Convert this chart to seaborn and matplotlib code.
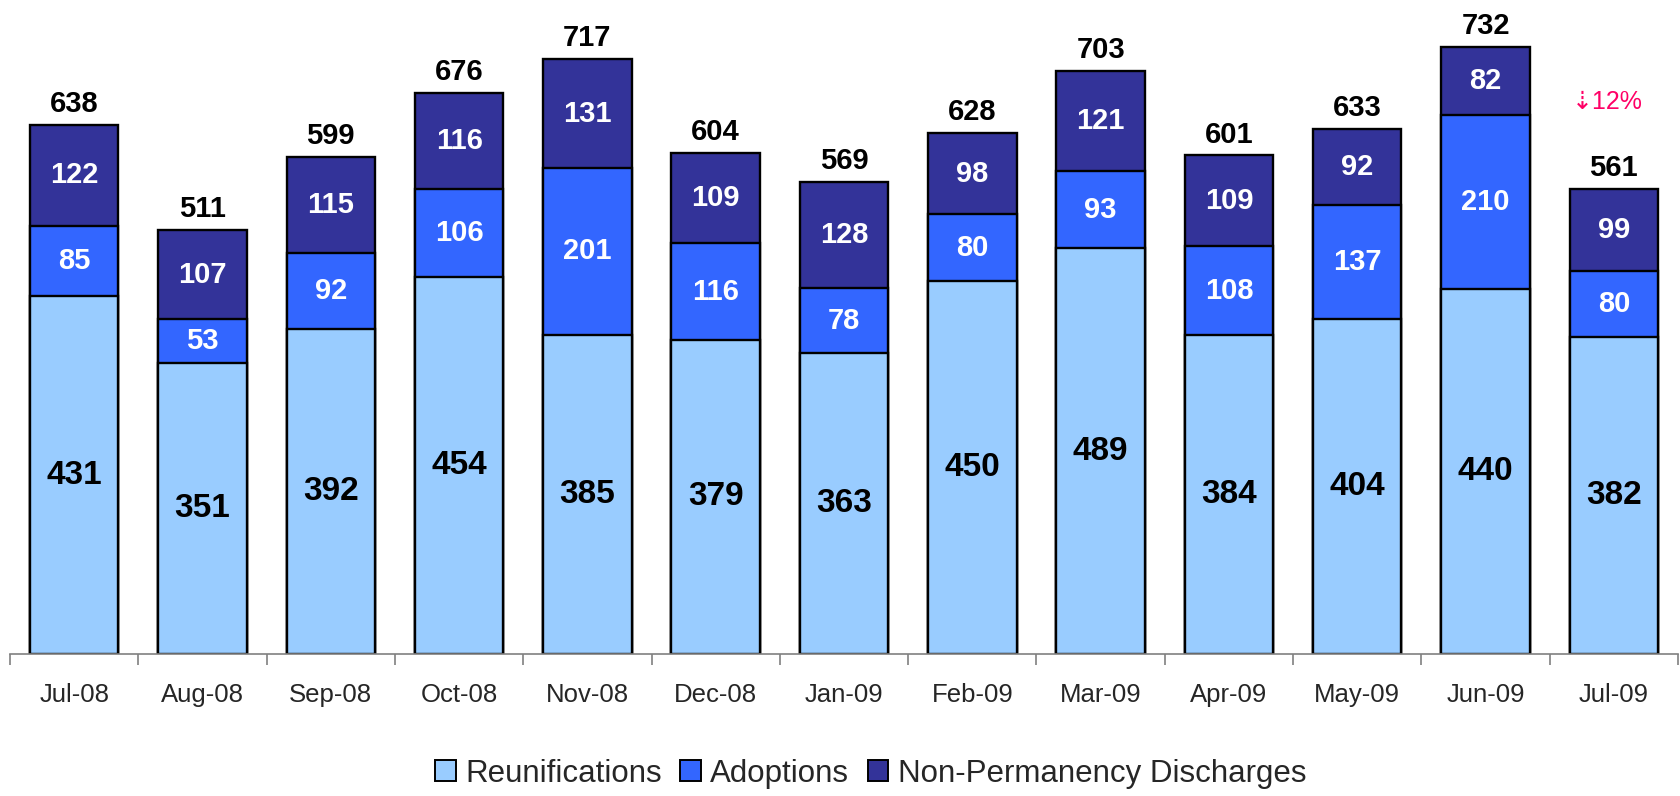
import pandas as pd
import numpy as np
import matplotlib
matplotlib.use("Agg")
import matplotlib.pyplot as plt
import seaborn as sns
from matplotlib.patches import Patch

months = ["Jul-08", "Aug-08", "Sep-08", "Oct-08", "Nov-08", "Dec-08", "Jan-09",
          "Feb-09", "Mar-09", "Apr-09", "May-09", "Jun-09", "Jul-09"]
reunifications = [431, 351, 392, 454, 385, 379, 363, 450, 489, 384, 404, 440, 382]
adoptions = [85, 53, 92, 106, 201, 116, 78, 80, 93, 108, 137, 210, 80]
non_perm = [122, 107, 115, 116, 131, 109, 128, 98, 121, 109, 92, 82, 99]
change_label = "\u21e312%"

sns.set_style("white")
plt.rcParams["font.family"] = ["Liberation Sans", "DejaVu Sans"]

df = pd.DataFrame({"month": months, "reun": reunifications,
                   "adopt": adoptions, "nonperm": non_perm})
df["lower2"] = df["reun"] + df["adopt"]
df["total"] = df["lower2"] + df["nonperm"]

c_reun, c_adopt, c_non = "#99CCFF", "#3366FF", "#333399"

fig = plt.figure(figsize=(16.81, 7.96), dpi=100)
ax = fig.add_axes([10 / 1681, 142 / 796, 1668 / 1681, 647 / 796])

# stacked bars: draw cumulative heights from the top down
for col, color in [("total", c_non), ("lower2", c_adopt), ("reun", c_reun)]:
    sns.barplot(data=df, x="month", y=col, order=months, color=color,
                saturation=1, width=0.69, edgecolor="black", linewidth=1.7, ax=ax)

for i, row in df.iterrows():
    ax.text(i, row["reun"] / 2, str(row["reun"]), ha="center", va="center",
            fontsize=24, fontweight="bold", color="black")
    ax.text(i, row["reun"] + row["adopt"] / 2, str(row["adopt"]), ha="center",
            va="center", fontsize=21, fontweight="bold", color="white")
    ax.text(i, row["lower2"] + row["nonperm"] / 2, str(row["nonperm"]), ha="center",
            va="center", fontsize=21, fontweight="bold", color="white")
    ax.annotate(str(row["total"]), (i, row["total"]), xytext=(0, 5),
                textcoords="offset points", ha="center", va="bottom",
                fontsize=21, fontweight="bold", color="black")

ax.annotate(change_label, (len(months) - 1, df["total"].iloc[-1]), xytext=(-5, 54),
            textcoords="offset points", ha="center", va="bottom",
            fontsize=18, color="#FF0066")

ax.set_xlim(-0.5, len(months) - 0.5)
ax.set_ylim(0, 780)
ax.set_xlabel("")
ax.set_ylabel("")
ax.set_yticks([])
for side in ["top", "right", "left"]:
    ax.spines[side].set_visible(False)
ax.spines["bottom"].set_color("#808080")
ax.spines["bottom"].set_linewidth(1.2)

ax.set_xticks(np.arange(-0.5, len(months)), minor=True)
ax.tick_params(axis="x", which="minor", length=8, width=1.2, color="#808080", direction="out")
ax.tick_params(axis="x", which="major", length=0, pad=21, labelsize=18.5)
ax.xaxis.set_ticks_position("bottom")

handles = [Patch(facecolor=c, edgecolor="black", linewidth=1.4) for c in (c_reun, c_adopt, c_non)]
fig.legend(handles, ["Reunifications", "Adoptions", "Non-Permanency Discharges"],
           loc="center", bbox_to_anchor=(0.518, 0.028), ncol=3, frameon=False,
           fontsize=22.5, handlelength=0.65, handleheight=0.65, handletextpad=0.3,
           columnspacing=0.6)

fig.savefig("out.png", dpi=100)
